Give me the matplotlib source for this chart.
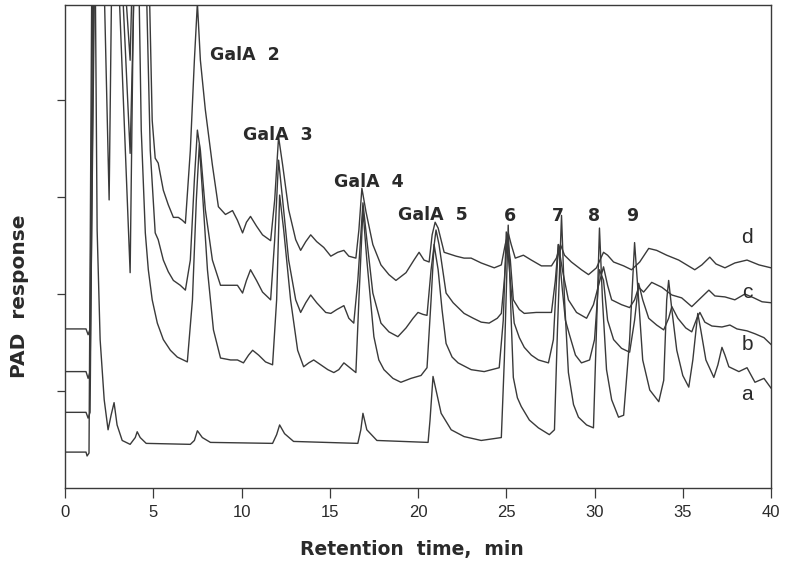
import matplotlib

matplotlib.use("Agg")
import matplotlib.pyplot as plt

# retention time (min) and detector response (arbitrary units)
time_a = [0.00, 1.19, 1.25, 1.36, 1.53, 1.70, 1.82, 1.99, 2.22, 2.44, 2.61, 2.78, 2.95, 3.24,
          3.69, 3.98, 4.09, 4.26, 4.60, 7.10, 7.33, 7.50, 7.78, 8.24, 11.76, 11.99, 12.16,
          12.44, 12.95, 16.59, 16.76, 16.88, 17.10, 17.67, 20.57, 20.68, 20.85, 21.08, 21.31,
          21.88, 22.61, 23.58, 24.72, 24.89, 25.11, 25.28, 25.40, 25.63, 25.85, 26.31, 26.82,
          27.44, 27.73, 27.90, 28.13, 28.30, 28.52, 28.81, 29.09, 29.55, 29.94, 30.11, 30.28,
          30.45, 30.68, 30.97, 31.36, 31.65, 31.99, 32.27, 32.50, 32.73, 33.13, 33.64, 33.92,
          34.09, 34.20, 34.38, 34.66, 35.00, 35.34, 35.57, 35.85, 36.02, 36.31, 36.76, 36.99,
          37.22, 37.39, 37.61, 38.18, 38.64, 39.09, 39.60, 40.00]
resp_a = [0.37, 0.37, 0.33, 0.36, 5.65, 5.65, 2.66, 1.53, 0.91, 0.60, 0.75, 0.88, 0.65, 0.49,
          0.45, 0.52, 0.58, 0.52, 0.46, 0.45, 0.49, 0.59, 0.52, 0.47, 0.46, 0.55, 0.65,
          0.56, 0.48, 0.46, 0.60, 0.77, 0.60, 0.49, 0.47, 0.70, 1.15, 0.96, 0.77,
          0.60, 0.53, 0.49, 0.52, 1.32, 2.71, 1.73, 1.14, 0.93, 0.84, 0.70, 0.62,
          0.55, 0.60, 1.63, 2.81, 1.94, 1.19, 0.86, 0.73, 0.65, 0.62, 1.63, 2.68,
          1.94, 1.22, 0.91, 0.73, 0.75, 1.53, 2.53, 1.94, 1.32, 1.01, 0.89, 1.11,
          1.94, 2.14, 1.84, 1.42, 1.16, 1.04, 1.32, 1.80, 1.63, 1.32, 1.14, 1.27,
          1.45, 1.37, 1.25, 1.20, 1.24, 1.09, 1.13, 1.03]

time_b = [0.00, 1.19, 1.31, 1.42, 1.65, 2.16, 2.50, 2.67, 2.95, 3.69, 3.92, 4.15, 4.32, 4.55,
          4.72, 4.94, 5.23, 5.57, 5.97, 6.36, 6.93, 7.22, 7.44, 7.61, 7.78, 8.07, 8.41, 8.81,
          9.38, 9.77, 10.11, 10.40, 10.63, 10.97, 11.36, 11.76, 11.99, 12.16, 12.39, 12.78,
          13.18, 13.52, 13.81, 14.09, 14.49, 14.89, 15.23, 15.51, 15.80, 16.14, 16.48, 16.65,
          16.88, 17.10, 17.50, 17.78, 18.07, 18.58, 19.03, 19.60, 20.17, 20.51, 20.74, 20.91,
          21.14, 21.36, 21.59, 21.93, 22.27, 23.01, 23.75, 24.60, 24.83, 25.00, 25.23, 25.45,
          25.74, 26.02, 26.42, 26.82, 27.39, 27.67, 27.95, 28.18, 28.35, 28.58, 28.92, 29.26,
          29.72, 30.00, 30.28, 30.51, 30.74, 31.08, 31.53, 31.99, 32.27, 32.50, 32.73, 33.07,
          33.52, 33.92, 34.20, 34.38, 34.72, 35.17, 35.51, 35.80, 35.97, 36.25, 36.65, 37.22,
          37.67, 38.07, 38.64, 39.09, 39.60, 40.00]
resp_b = [0.78, 0.78, 0.72, 0.78, 5.65, 5.65, 2.97, 5.65, 5.65, 2.22, 5.65, 5.65, 3.69, 2.63,
          2.25, 1.94, 1.70, 1.53, 1.42, 1.35, 1.30, 1.94, 2.97, 3.54, 3.07, 2.25, 1.63, 1.34,
          1.32, 1.32, 1.29, 1.37, 1.42, 1.37, 1.30, 1.27, 1.94, 3.02, 2.66, 1.94,
          1.42, 1.25, 1.29, 1.32, 1.27, 1.22, 1.19, 1.22, 1.29, 1.24, 1.19, 1.94,
          2.87, 2.35, 1.56, 1.32, 1.22, 1.13, 1.09, 1.13, 1.16, 1.24, 1.94, 2.51,
          2.25, 1.84, 1.49, 1.35, 1.29, 1.22, 1.20, 1.24, 1.73, 2.64, 2.14, 1.70,
          1.55, 1.45, 1.37, 1.32, 1.29, 1.53, 2.51, 2.04, 1.73, 1.58, 1.37, 1.29,
          1.32, 1.53, 2.25, 2.14, 1.73, 1.53, 1.44, 1.40, 1.73, 2.11, 1.94, 1.75,
          1.68, 1.63, 1.75, 1.87, 1.75, 1.65, 1.61, 1.75, 1.81, 1.71, 1.67, 1.66,
          1.68, 1.64, 1.62, 1.59, 1.55, 1.48]

time_c = [0.00, 1.19, 1.31, 1.42, 1.70, 3.13, 3.69, 3.98, 4.55, 4.83, 5.11, 5.28, 5.57, 5.85,
          6.14, 6.53, 6.82, 7.10, 7.33, 7.50, 7.67, 7.95, 8.35, 8.81, 9.38, 9.77, 10.06, 10.28,
          10.51, 10.85, 11.19, 11.65, 11.88, 12.10, 12.33, 12.67, 13.07, 13.35, 13.64, 13.92,
          14.26, 14.77, 15.06, 15.40, 15.80, 16.08, 16.36, 16.59, 16.88, 17.10, 17.44, 17.90,
          18.35, 18.86, 19.32, 19.72, 20.00, 20.28, 20.51, 20.74, 21.02, 21.19, 21.59, 21.99,
          22.61, 23.13, 23.58, 24.03, 24.49, 24.72, 24.89, 25.06, 25.23, 25.40, 25.74, 26.02,
          26.70, 27.56, 27.78, 27.95, 28.18, 28.52, 28.98, 29.55, 29.94, 30.23, 30.51, 30.74,
          30.97, 31.53, 31.99, 32.27, 32.50, 32.78, 33.24, 33.81, 34.38, 34.94, 35.51, 36.08,
          36.48, 36.82, 37.39, 37.95, 38.52, 39.03, 39.49, 40.00]
resp_c = [1.20, 1.20, 1.13, 1.20, 5.65, 5.65, 3.45, 5.65, 5.65, 3.48, 2.63, 2.56, 2.35, 2.23,
          2.14, 2.09, 2.04, 2.35, 3.18, 3.69, 3.48, 2.87, 2.35, 2.09, 2.09, 2.09, 2.01, 2.14,
          2.25, 2.14, 2.02, 1.94, 2.56, 3.38, 2.97, 2.35, 1.94, 1.81, 1.91, 1.99,
          1.91, 1.81, 1.80, 1.84, 1.88, 1.75, 1.70, 2.14, 2.94, 2.56, 2.01, 1.70,
          1.61, 1.56, 1.65, 1.75, 1.81, 1.79, 1.78, 2.25, 2.66, 2.51, 2.01, 1.91,
          1.80, 1.75, 1.71, 1.70, 1.75, 1.80, 2.14, 2.58, 2.35, 1.94, 1.84, 1.80,
          1.81, 1.81, 2.14, 2.51, 2.25, 1.94, 1.81, 1.75, 1.89, 2.09, 2.28, 2.09,
          1.94, 1.89, 1.86, 1.94, 2.07, 2.02, 2.12, 2.07, 1.99, 1.96, 1.87, 1.97,
          2.04, 1.98, 1.97, 1.94, 2.00, 1.96, 1.92, 1.91]

time_d = [0.00, 1.19, 1.31, 1.42, 1.59, 3.24, 3.69, 3.86, 4.72, 4.94, 5.11, 5.28, 5.57, 5.85,
          6.14, 6.42, 6.65, 6.82, 7.10, 7.33, 7.50, 7.67, 7.95, 8.35, 8.69, 9.09, 9.49, 9.77,
          10.06, 10.28, 10.51, 10.85, 11.19, 11.65, 11.88, 12.10, 12.33, 12.67, 13.07, 13.35,
          13.64, 13.92, 14.26, 14.66, 15.06, 15.45, 15.80, 16.08, 16.48, 16.65, 16.82, 17.05,
          17.44, 17.90, 18.35, 18.75, 19.32, 19.77, 20.06, 20.34, 20.63, 20.80, 20.97, 21.14,
          21.48, 22.16, 22.61, 23.01, 23.58, 24.32, 24.72, 24.94, 25.11, 25.28, 25.51, 25.97,
          26.42, 26.99, 27.56, 27.84, 28.07, 28.30, 28.69, 29.26, 29.66, 30.11, 30.51, 30.74,
          31.08, 31.65, 32.10, 32.56, 33.07, 33.52, 34.09, 34.77, 35.68, 36.08, 36.53, 36.88,
          37.39, 37.95, 38.64, 39.32, 40.00]
resp_d = [1.64, 1.64, 1.58, 1.64, 5.65, 5.65, 4.41, 5.65, 5.65, 3.79, 3.40, 3.35, 3.07, 2.92,
          2.79, 2.79, 2.76, 2.73, 3.48, 4.41, 5.00, 4.41, 3.90, 3.33, 2.90, 2.82, 2.86, 2.76,
          2.63, 2.74, 2.80, 2.70, 2.61, 2.55, 2.97, 3.62, 3.33, 2.87, 2.56, 2.45,
          2.54, 2.61, 2.54, 2.48, 2.39, 2.43, 2.45, 2.39, 2.37, 2.66, 3.09, 2.85,
          2.51, 2.30, 2.20, 2.14, 2.22, 2.35, 2.43, 2.35, 2.33, 2.61, 2.74, 2.68,
          2.43, 2.39, 2.37, 2.37, 2.32, 2.27, 2.30, 2.51, 2.63, 2.51, 2.37, 2.40,
          2.35, 2.29, 2.29, 2.37, 2.51, 2.40, 2.33, 2.25, 2.20, 2.27, 2.43, 2.40,
          2.33, 2.29, 2.25, 2.33, 2.47, 2.45, 2.40, 2.35, 2.25, 2.30, 2.38, 2.31,
          2.27, 2.32, 2.35, 2.30, 2.27]

trace_names = ["a", "b", "c", "d"]
trace_label_y = [0.91, 1.42, 1.96, 2.53]
trace_label_x = 38.65

peak_labels = ["GalA  2", "GalA  3", "GalA  4", "GalA  5", "6", "7", "8", "9"]
peak_label_x = [8.24, 10.06, 15.23, 18.86, 25.23, 27.95, 30.00, 32.16]
peak_label_y = [4.41, 3.59, 3.10, 2.76, 2.75, 2.75, 2.75, 2.75]

x_ticks = [0, 5, 10, 15, 20, 25, 30, 35, 40]
y_ticks = [1, 2, 3, 4]

INK = "#3a3a3a"
TEXT = "#2a2a2a"


def main():
    plt.rcParams["font.family"] = ["Liberation Sans", "DejaVu Sans"]

    fig = plt.figure(figsize=(7.87, 5.65), dpi=100)
    ax = fig.add_axes([0.0826, 0.1363, 0.8971, 0.8549])

    traces = [(time_a, resp_a), (time_b, resp_b), (time_c, resp_c), (time_d, resp_d)]
    for t, r in traces:
        ax.plot(t, r, color=INK, linewidth=1.0)

    for name, y in zip(trace_names, trace_label_y):
        ax.text(trace_label_x, y, name, ha="center", va="baseline",
                fontsize=15, color=TEXT)

    for label, x, y in zip(peak_labels, peak_label_x, peak_label_y):
        ha = "left" if label.startswith("GalA") else "center"
        ax.text(x, y, label, ha=ha, va="baseline", fontsize=12.5,
                fontweight="bold", family="DejaVu Sans", color=TEXT)

    ax.set_xlim(0, 40)
    ax.set_ylim(0, 4.98)
    ax.set_xticks(x_ticks)
    ax.set_yticks(y_ticks)
    ax.set_yticklabels([])
    ax.tick_params(axis="x", direction="out", length=7, width=0.9, colors=INK,
                   labelsize=12, pad=5, labelcolor=TEXT)
    ax.tick_params(axis="y", direction="out", length=6, width=0.9, colors=INK)
    for spine in ax.spines.values():
        spine.set_color(INK)
        spine.set_linewidth(1.0)

    ax.set_xlabel("Retention  time,  min", fontsize=13.5, fontweight="bold",
                  family="DejaVu Sans", color=TEXT)
    ax.xaxis.set_label_coords(0.492, -0.108)
    ax.set_ylabel("PAD  response", fontsize=14.5, fontweight="bold",
                  family="DejaVu Sans", color=TEXT)
    ax.yaxis.label.set_va("center")
    ax.yaxis.set_label_coords(-0.064, 0.396)

    fig.savefig("out.png", dpi=100)


if __name__ == "__main__":
    main()
